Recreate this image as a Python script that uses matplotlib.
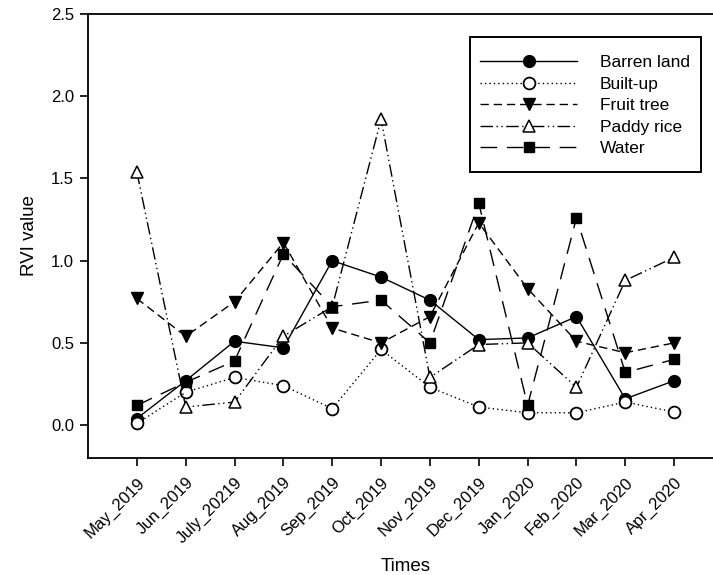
import matplotlib
matplotlib.use("Agg")
import matplotlib.pyplot as plt
from matplotlib.patches import Rectangle

plt.rcParams['font.family'] = ['Liberation Sans', 'DejaVu Sans']

months = ["May_2019", "Jun_2019", "July_20219", "Aug_2019", "Sep_2019", "Oct_2019",
          "Nov_2019", "Dec_2019", "Jan_2020", "Feb_2020", "Mar_2020", "Apr_2020"]

barren_land = [0.04, 0.27, 0.51, 0.47, 1.00, 0.90, 0.76, 0.52, 0.53, 0.66, 0.16, 0.27]
built_up = [0.01, 0.20, 0.29, 0.24, 0.10, 0.46, 0.23, 0.11, 0.075, 0.075, 0.14, 0.08]
fruit_tree = [0.77, 0.54, 0.75, 1.11, 0.59, 0.50, 0.66, 1.23, 0.83, 0.51, 0.44, 0.50]
paddy_rice = [1.54, 0.11, 0.14, 0.54, 0.72, 1.86, 0.29, 0.49, 0.50, 0.23, 0.88, 1.02]
water = [0.12, 0.26, 0.39, 1.04, 0.72, 0.76, 0.50, 1.35, 0.12, 1.26, 0.32, 0.40]

x = list(range(1, len(months) + 1))

W, H = 713, 575
fig = plt.figure(figsize=(W / 100, H / 100), dpi=100)
ax = fig.add_axes([88 / W, 1 - 458 / H, 635 / W, 444 / H])

ms = 8.5
lw = 1.0
ax.plot(x, barren_land, color='black', lw=lw, linestyle='-', marker='o', ms=ms,
        mfc='black', mec='black', label='Barren land')
ax.plot(x, built_up, color='black', lw=lw, dashes=(1, 2.2), marker='o', ms=ms,
        mfc='white', mec='black', mew=1.3, label='Built-up')
ax.plot(x, fruit_tree, color='black', lw=lw, dashes=(6, 3.5), marker='v', ms=ms,
        mfc='black', mec='black', label='Fruit tree')
ax.plot(x, paddy_rice, color='black', lw=lw, dashes=(9, 2.5, 1, 2.5, 1, 2.5),
        marker='^', ms=ms, mfc='white', mec='black', mew=1.1, label='Paddy rice')
ax.plot(x, water, color='black', lw=lw, dashes=(12, 7), marker='s', ms=ms - 1,
        mfc='black', mec='black', label='Water')

ax.set_xlim(0, 13)
ax.set_ylim(-0.2, 2.5)
ax.set_yticks([0.0, 0.5, 1.0, 1.5, 2.0, 2.5])
ax.set_yticklabels(["0.0", "0.5", "1.0", "1.5", "2.0", "2.5"])
ax.set_xticks(x)
ax.set_xticklabels(months, rotation=45, ha='right', rotation_mode='anchor')

for sp in ax.spines.values():
    sp.set_linewidth(1.3)
ax.tick_params(direction='out', length=6, width=1.2, labelsize=12, pad=4)
ax.tick_params(axis='x', pad=6)

ax.set_ylabel("RVI value", fontsize=13.5, labelpad=9)
ax.set_xlabel("Times", fontsize=13.5, labelpad=9)

# legend frame drawn separately so its padding can differ per side
fig.patches.append(Rectangle((470 / W, 1 - 172 / H), 231 / W, 135 / H,
                             transform=fig.transFigure, fill=True, facecolor='white',
                             edgecolor='black', linewidth=1.4, zorder=3))
leg = fig.legend(loc='upper left', bbox_to_anchor=(480 / W, 1 - 55 / H),
                 borderaxespad=0, fontsize=12.5, handlelength=5.6, numpoints=1,
                 handletextpad=1.3, labelspacing=0.37, borderpad=0,
                 frameon=False)
leg.set_zorder(4)

fig.savefig("out.png", dpi=100)
